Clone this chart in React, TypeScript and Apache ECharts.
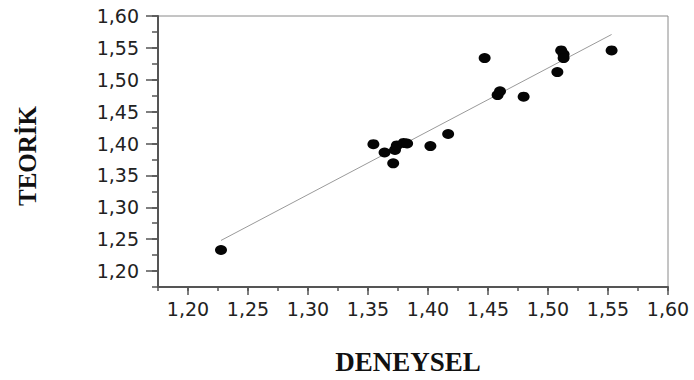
import React, { useEffect, useRef } from "react";
import * as echarts from "echarts";

// Measured (DENEYSEL) vs. theoretical (TEORİK) values
const deneysel = [1.2275, 1.3545, 1.3638, 1.371, 1.3725, 1.374, 1.3797, 1.3826, 1.402, 1.4168, 1.4472, 1.458, 1.46, 1.4797, 1.5078, 1.511, 1.513, 1.513, 1.553];
const teorik = [1.233, 1.399, 1.386, 1.369, 1.39, 1.397, 1.401, 1.4, 1.396, 1.415, 1.534, 1.476, 1.482, 1.4735, 1.512, 1.546, 1.54, 1.534, 1.546];

// Fitted line end points
const fitX = [1.2275, 1.553];
const fitY = [1.248, 1.571];

// Axis ticks
const tickValues = [1.175, 1.2, 1.225, 1.25, 1.275, 1.3, 1.325, 1.35, 1.375, 1.4, 1.425, 1.45, 1.475, 1.5, 1.525, 1.55, 1.575, 1.6];
const axisMin = 1.175;
const axisMax = 1.6;
const tickStep = 0.025;

const xTitle = "DENEYSEL";
const yTitle = "TEORİK";

const isMajor = (v: number) => Math.round(v / tickStep) % 2 === 0;
const fmt = (v: number) => (isMajor(v) ? v.toFixed(2).replace(".", ",") : "");

export default function App() {
  const ref = useRef<HTMLDivElement>(null);
  useEffect(() => {
    if (!ref.current) return;
    const chart = echarts.init(ref.current, null, { renderer: "svg" });
    const axisColor = "#555";
    const labelStyle = { color: "#222", fontFamily: "DejaVu Sans", fontSize: 19 };
    const tickCats = tickValues.map((v) => String(v));
    chart.setOption({
      animation: false,
      backgroundColor: "#fff",
      grid: {
        left: 158,
        right: 26,
        top: 16,
        bottom: 93,
        show: true,
        borderColor: "#8a8a8a",
        borderWidth: 1,
      },
      xAxis: [
        {
          type: "value",
          min: axisMin,
          max: axisMax,
          interval: tickStep,
          axisLine: { show: true, lineStyle: { color: axisColor, width: 2 } },
          axisTick: { show: true, length: 4, lineStyle: { color: axisColor, width: 1.5 } },
          splitLine: { show: false },
          axisLabel: { ...labelStyle, margin: 12, formatter: (v: number) => fmt(v) },
        },
        {
          type: "category",
          position: "bottom",
          data: tickCats,
          boundaryGap: false,
          axisLine: { show: false },
          axisTick: {
            show: true,
            length: 8,
            interval: (i: number) => isMajor(tickValues[i]),
            lineStyle: { color: axisColor, width: 1.5 },
          },
          axisLabel: { show: false },
          splitLine: { show: false },
        },
      ],
      yAxis: [
        {
          type: "value",
          min: axisMin,
          max: axisMax,
          interval: tickStep,
          axisLine: { show: true, lineStyle: { color: axisColor, width: 2 } },
          axisTick: { show: true, length: 6, lineStyle: { color: axisColor, width: 1.5 } },
          splitLine: { show: false },
          axisLabel: { ...labelStyle, margin: 19, formatter: (v: number) => fmt(v) },
        },
        {
          type: "category",
          position: "left",
          data: tickCats,
          boundaryGap: false,
          axisLine: { show: false },
          axisTick: {
            show: true,
            length: 12,
            interval: (i: number) => isMajor(tickValues[i]),
            lineStyle: { color: axisColor, width: 1.5 },
          },
          axisLabel: { show: false },
          splitLine: { show: false },
        },
      ],
      series: [
        {
          type: "line",
          xAxisIndex: 0,
          yAxisIndex: 0,
          data: fitX.map((x, i) => [x, fitY[i]]),
          showSymbol: false,
          lineStyle: { color: "#9a9a9a", width: 1 },
          z: 1,
        },
        {
          type: "scatter",
          xAxisIndex: 0,
          yAxisIndex: 0,
          data: deneysel.map((x, i) => [x, teorik[i]]),
          symbol: "circle",
          symbolSize: [12, 10],
          itemStyle: { color: "#050505", opacity: 1 },
          z: 2,
        },
      ],
      graphic: [
        {
          type: "text",
          x: 408,
          y: 362,
          style: {
            text: xTitle,
            fontFamily: "Liberation Serif",
            fontWeight: "bold",
            fontSize: 27,
            fill: "#111",
            align: "center",
            verticalAlign: "middle",
          },
        },
        {
          type: "text",
          x: 27,
          y: 156,
          rotation: Math.PI / 2,
          style: {
            text: yTitle,
            fontFamily: "Liberation Serif",
            fontWeight: "bold",
            fontSize: 25,
            fill: "#111",
            align: "center",
            verticalAlign: "middle",
          },
        },
      ],
    });
    return () => chart.dispose();
  }, []);
  return (
    <div
      ref={ref}
      style={{ position: "fixed", left: 0, top: 0, width: 694, height: 380, background: "#fff" }}
    />
  );
}
